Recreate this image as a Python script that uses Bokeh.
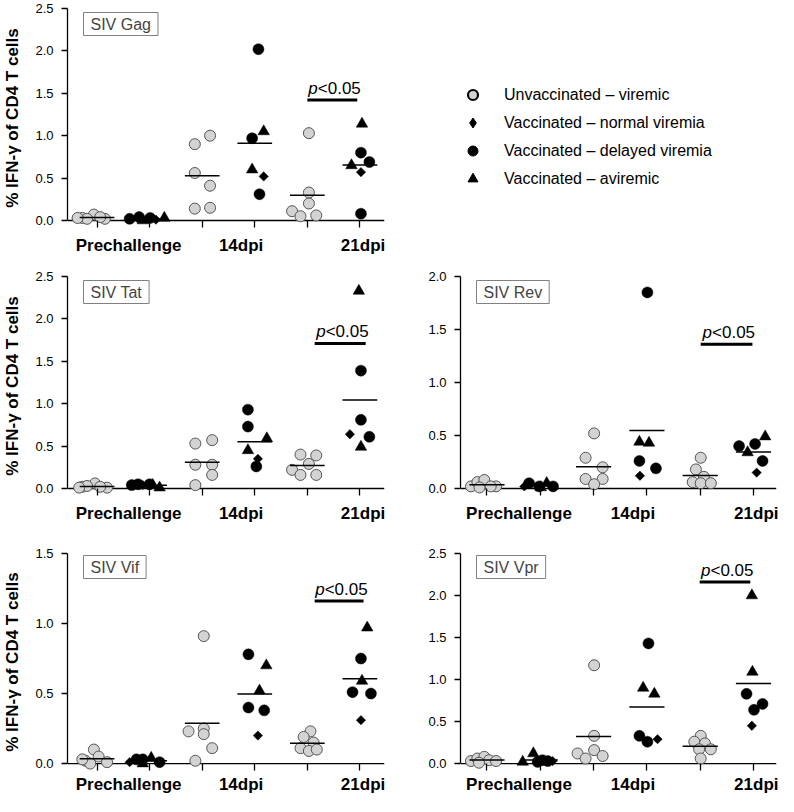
import numpy as np
from bokeh.plotting import figure
from bokeh.layouts import column, row
from bokeh.models import (Range1d, FixedTicker, PrintfTickFormatter, Span, Label,
                          Legend, LegendItem)
from bokeh.core.properties import value
from bokeh.embed import file_html
from bokeh.resources import INLINE

FONT = "Liberation Sans"

# ---------------- categories / labels ----------------
TIMEPOINTS = ["Prechallenge", "14dpi", "21dpi"]
LABEL_X = [1.6, 3.74, 6.06]
GROUP_LABELS = ["Unvaccinated – viremic", "Vaccinated – normal viremia",
                "Vaccinated – delayed viremia", "Vaccinated – aviremic"]
Y_LABEL = "% IFN-γ of CD4 T cells"
# kinds for vaccinated animals: N = normal viremia, D = delayed viremia, A = aviremic

# ---------------- SIV Gag ----------------
gag_unvac = [[0.03, 0.07, 0.02, 0.02, 0.04, 0.03],
             [0.90, 1.00, 0.56, 0.41, 0.14, 0.15],
             [1.03, 0.33, 0.20, 0.11, 0.05, 0.06]]
gag_unvac_jit = [[-0.28, -0.06, -0.19, 0.15, 0.06, -0.37],
                 [-0.14, 0.15, -0.14, 0.15, -0.14, 0.15],
                 [0.03, 0.03, 0.03, -0.29, -0.13, 0.17]]
gag_vac = [[0.02, 0.04, 0.03, 0.00, 0.01, 0.03],
           [2.02, 1.05, 0.97, 0.60, 0.52, 0.31],
           [1.14, 0.80, 0.69, 0.65, 0.57, 0.08]]
gag_vac_kind = [["D", "D", "D", "A", "N", "A"],
                ["D", "A", "D", "A", "N", "D"],
                ["A", "D", "D", "A", "N", "D"]]
gag_vac_jit = [[-0.38, -0.20, 0.01, -0.13, 0.12, 0.28],
               [0.07, 0.17, -0.05, -0.05, 0.17, 0.09],
               [0.04, 0.02, 0.18, -0.16, 0.02, 0.02]]
gag_sig = [1.42, 5.0, 5.95]

# ---------------- SIV Tat ----------------
tat_unvac = [[0.02, 0.06, 0.03, 0.01, 0.02, 0.01],
             [0.53, 0.57, 0.28, 0.28, 0.16, 0.04],
             [0.40, 0.39, 0.29, 0.22, 0.16, 0.16]]
tat_unvac_jit = [[-0.28, -0.04, -0.19, 0.19, 0.06, -0.34],
                 [-0.13, 0.19, -0.13, 0.19, 0.19, -0.13],
                 [-0.13, 0.17, 0.03, -0.29, -0.13, 0.17]]
tat_vac = [[0.04, 0.05, 0.04, 0.05, 0.04, 0.01],
           [0.93, 0.73, 0.59, 0.45, 0.35, 0.26],
           [2.33, 1.39, 0.81, 0.64, 0.61, 0.49]]
tat_vac_kind = [["D", "D", "N", "D", "A", "A"],
                ["D", "D", "A", "A", "N", "D"],
                ["A", "D", "D", "N", "D", "A"]]
tat_vac_jit = [[-0.34, -0.22, -0.13, 0.0, 0.06, 0.19],
               [-0.13, -0.13, 0.23, -0.13, 0.06, 0.03],
               [-0.02, 0.02, 0.02, -0.19, 0.18, 0.02]]
tat_sig = [1.71, 5.14, 6.11]

# ---------------- SIV Rev ----------------
rev_unvac = [[0.02, 0.06, 0.08, 0.01, 0.02, 0.02],
             [0.52, 0.29, 0.20, 0.09, 0.09, 0.04],
             [0.29, 0.18, 0.11, 0.06, 0.05, 0.05]]
rev_unvac_jit = [[-0.30, -0.18, -0.05, -0.14, 0.17, 0.07],
                 [0.01, -0.15, 0.17, -0.15, 0.17, 0.01],
                 [0.01, -0.08, 0.07, -0.14, 0.01, 0.20]]
rev_vac = [[0.02, 0.05, 0.02, 0.05, 0.02, 0.01],
           [1.85, 0.44, 0.43, 0.26, 0.19, 0.12],
           [0.49, 0.40, 0.42, 0.34, 0.26, 0.15]]
rev_vac_kind = [["N", "D", "D", "A", "D", "A"],
                ["D", "A", "A", "D", "D", "N"],
                ["A", "D", "D", "A", "D", "N"]]
rev_vac_jit = [[-0.30, -0.21, -0.02, 0.12, 0.24, 0.01],
               [0.01, -0.14, 0.04, -0.14, 0.17, -0.13],
               [0.22, -0.27, 0.03, -0.11, 0.17, 0.06]]
rev_sig = [1.36, 5.01, 5.98]

# ---------------- SIV Vif ----------------
vif_unvac = [[0.02, 0.10, 0.05, 0.00, 0.01, 0.03],
             [0.91, 0.23, 0.25, 0.21, 0.11, 0.02],
             [0.23, 0.19, 0.15, 0.11, 0.09, 0.10]]
vif_unvac_jit = [[-0.22, -0.06, 0.03, -0.13, 0.19, -0.28],
                 [0.03, -0.26, 0.03, 0.03, 0.19, -0.13],
                 [0.06, -0.07, 0.12, -0.13, 0.03, 0.18]]
vif_vac = [[0.01, 0.03, 0.03, 0.00, 0.04, 0.01],
           [0.78, 0.70, 0.52, 0.40, 0.38, 0.20],
           [0.97, 0.75, 0.59, 0.51, 0.50, 0.31]]
vif_vac_kind = [["N", "D", "D", "A", "A", "D"],
                ["D", "A", "A", "D", "D", "N"],
                ["A", "D", "A", "D", "D", "N"]]
vif_vac_jit = [[-0.38, -0.25, -0.13, -0.13, 0.03, 0.19],
               [-0.12, 0.22, 0.09, -0.12, 0.18, 0.06],
               [0.14, 0.02, 0.04, -0.14, 0.21, 0.02]]
vif_sig = [1.16, 5.14, 6.07]

# ---------------- SIV Vpr ----------------
vpr_unvac = [[0.03, 0.06, 0.08, 0.04, 0.03, 0.01],
             [1.17, 0.33, 0.12, 0.16, 0.09, 0.06],
             [0.33, 0.26, 0.24, 0.17, 0.17, 0.06]]
vpr_unvac_jit = [[-0.30, -0.18, -0.05, 0.04, 0.17, -0.15],
                 [0.01, 0.01, -0.30, 0.01, 0.17, -0.15],
                 [0.01, -0.11, 0.09, 0.20, -0.02, 0.01]]
vpr_vac = [[0.02, 0.12, 0.04, 0.03, 0.03, 0.02],
           [1.43, 0.90, 0.83, 0.33, 0.26, 0.29],
           [2.00, 1.09, 0.83, 0.71, 0.64, 0.45]]
vpr_vac_kind = [["A", "A", "D", "D", "N", "D"],
                ["D", "A", "A", "D", "D", "N"],
                ["A", "A", "D", "D", "D", "N"]]
vpr_vac_jit = [[-0.33, -0.13, 0.04, 0.14, 0.23, -0.05],
               [0.03, -0.07, 0.14, -0.14, 0.01, 0.20],
               [-0.03, -0.02, -0.13, 0.17, 0.01, -0.03]]
vpr_sig = [2.16, 4.99, 5.94]

# ---------------- styling ----------------
GREY_FILL = "#d3d3d3"
GREY_LINE = "#555555"
MARKERS = {
    "N": dict(marker="square", size=6.6, angle=np.pi / 4),
    "D": dict(marker="circle", size=11),
    "A": dict(marker="triangle", size=11.5),
}
FRAME_H = 219
PAD_PX = 7


def make_panel(name, ymax, unvac, unvac_jit, vac, vac_kind, vac_jit, sig,
               left, height, top, label_standoff):
    ppu = (FRAME_H - PAD_PX) / ymax
    pad = PAD_PX / ppu
    if left:
        width, mbl, mbr = 392, 62, 8
        xr = Range1d(0.438, 6.468)
    else:
        width, mbl, mbr = 386, 68, 2
        xr = Range1d(0.503, 6.432)
    p = figure(width=width, height=height, x_range=xr,
               y_range=Range1d(-pad, ymax),
               min_border_left=mbl, min_border_right=mbr,
               min_border_top=top, min_border_bottom=height - top - FRAME_H,
               output_backend="svg", toolbar_location=None, tools="")
    p.outline_line_color = None
    p.xgrid.visible = False
    p.ygrid.visible = False

    # x axis line at y = 0
    p.add_layout(Span(location=0, dimension="width", line_color="black",
                      line_width=1.3, level="underlay"))

    centers_u = [1, 3, 5]
    centers_v = [2, 4, 6]
    # unvaccinated points
    ux, uy = [], []
    for g, vals, jit in zip(centers_u, unvac, unvac_jit):
        ux += [g + j for j in jit]
        uy += list(vals)
    p.scatter(x=ux, y=uy, marker="circle", size=11, fill_color=GREY_FILL,
              line_color=GREY_LINE, line_width=1)
    # vaccinated points by outcome
    for kind in ["N", "D", "A"]:
        vx, vy = [], []
        for g, vals, kinds, jit in zip(centers_v, vac, vac_kind, vac_jit):
            for v, k, j in zip(vals, kinds, jit):
                if k == kind:
                    vx.append(g + j)
                    vy.append(v)
        p.scatter(x=vx, y=vy, fill_color="black", line_color="black",
                  line_width=0.5, **MARKERS[kind])

    # group means
    centers = []
    means = []
    for gu, gv, a, b in zip(centers_u, centers_v, unvac, vac):
        centers += [gu, gv]
        means += [float(np.mean(a)), float(np.mean(b))]
    centers = np.array(centers, dtype=float)
    p.segment(x0=centers - 0.33, x1=centers + 0.33, y0=means, y1=means,
              line_color="black", line_width=1.5)

    # significance bar and text
    sy, sx0, sx1 = sig
    p.segment(x0=[sx0], x1=[sx1], y0=[sy], y1=[sy], line_color="black",
              line_width=3)
    xc = (sx0 + sx1) / 2
    p.text(x=[xc], y=[sy], text=["p"], x_offset=-24, y_offset=-2,
           text_align="left", text_baseline="bottom",
           text_font=value(FONT), text_font_size="17px",
           text_font_style="italic", text_color="black")
    p.text(x=[xc], y=[sy], text=["<0.05"], x_offset=-14.5, y_offset=-2,
           text_align="left", text_baseline="bottom",
           text_font=value(FONT), text_font_size="17px", text_color="black")

    # antigen label box
    p.add_layout(Label(x=16, y=FRAME_H - 4, x_units="screen", y_units="screen",
                       text=name, text_font=FONT, text_font_size="16px",
                       text_align="left", text_baseline="top",
                       border_line_color="#808080", border_line_width=1,
                       background_fill_color="white", padding=(7, 3)))

    # x axis
    xa = p.xaxis[0]
    xa.ticker = FixedTicker(ticks=LABEL_X, minor_ticks=[1, 2, 3, 4, 5, 6])
    xa.major_label_overrides = {x: t for x, t in zip(LABEL_X, TIMEPOINTS)}
    xa.axis_line_color = None
    xa.major_tick_line_color = None
    xa.major_tick_in = 0
    xa.major_tick_out = 0
    xa.minor_tick_line_color = "black"
    xa.minor_tick_line_width = 1.3
    xa.minor_tick_in = PAD_PX
    xa.minor_tick_out = 0
    xa.major_label_text_font = FONT
    xa.major_label_text_font_size = "17px"
    xa.major_label_text_font_style = "bold"
    xa.major_label_text_color = "black"
    xa.major_label_standoff = label_standoff

    # y axis
    ya = p.yaxis[0]
    ya.ticker = FixedTicker(ticks=list(np.arange(0, ymax + 0.001, 0.5)))
    ya.formatter = PrintfTickFormatter(format="%.1f")
    ya.bounds = (0, ymax)
    ya.axis_line_color = "black"
    ya.axis_line_width = 1.3
    ya.major_tick_line_color = "black"
    ya.major_tick_line_width = 1.3
    ya.major_tick_out = 6
    ya.major_tick_in = 0
    ya.minor_tick_line_color = None
    ya.major_label_text_font = FONT
    ya.major_label_text_font_size = "13px"
    ya.major_label_text_color = "black"
    ya.major_label_standoff = 8
    if left:
        ya.axis_label = Y_LABEL
        ya.axis_label_text_font = FONT
        ya.axis_label_text_font_size = "17px"
        ya.axis_label_text_font_style = "bold"
        ya.axis_label_text_color = "black"
        ya.axis_label_standoff = 10
    return p


R1, R2, R3 = 268, 266, 262

gag = make_panel("SIV Gag", 2.5, gag_unvac, gag_unvac_jit, gag_vac, gag_vac_kind,
                 gag_vac_jit, gag_sig, True, R1, 8, 8)
tat = make_panel("SIV Tat", 2.5, tat_unvac, tat_unvac_jit, tat_vac, tat_vac_kind,
                 tat_vac_jit, tat_sig, True, R2, 8, 8)
rev = make_panel("SIV Rev", 2.0, rev_unvac, rev_unvac_jit, rev_vac, rev_vac_kind,
                 rev_vac_jit, rev_sig, False, R2, 8, 8)
vif = make_panel("SIV Vif", 1.5, vif_unvac, vif_unvac_jit, vif_vac, vif_vac_kind,
                 vif_vac_jit, vif_sig, True, R3, 19, 4)
vpr = make_panel("SIV Vpr", 2.5, vpr_unvac, vpr_unvac_jit, vpr_vac, vpr_vac_kind,
                 vpr_vac_jit, vpr_sig, False, R3, 19, 4)

# ---------------- legend panel ----------------
lf = figure(width=386, height=R1, x_range=Range1d(0, 1), y_range=Range1d(0, 1),
            x_axis_type=None, y_axis_type=None, output_backend="svg",
            toolbar_location=None, tools="", min_border=0)
lf.outline_line_color = None
# legend-only renderers: their single point lies outside the visible range
hidden = dict(x=[10], y=[10])
r0 = lf.scatter(marker="circle", size=11, fill_color=GREY_FILL,
                line_color="black", line_width=2.2, **hidden)
r1 = lf.scatter(marker="diamond", size=11, fill_color="black",
                line_color="black", **hidden)
r2 = lf.scatter(marker="circle", size=11, fill_color="black",
                line_color="black", **hidden)
r3 = lf.scatter(marker="triangle", size=11, fill_color="black",
                line_color="black", **hidden)
leg = Legend(items=[LegendItem(label=l, renderers=[r])
                    for l, r in zip(GROUP_LABELS, [r0, r1, r2, r3])],
             location=(68, 36), orientation="vertical",
             border_line_color=None, background_fill_alpha=0,
             padding=0, margin=0, spacing=3, glyph_width=25, glyph_height=25,
             label_standoff=19, label_height=25,
             label_text_font=FONT, label_text_font_size="16px",
             label_text_color="black")
lf.add_layout(leg)

layout = column(row(gag, lf), row(tat, rev), row(vif, vpr))
open("out.html", "w").write(file_html(layout, INLINE))
